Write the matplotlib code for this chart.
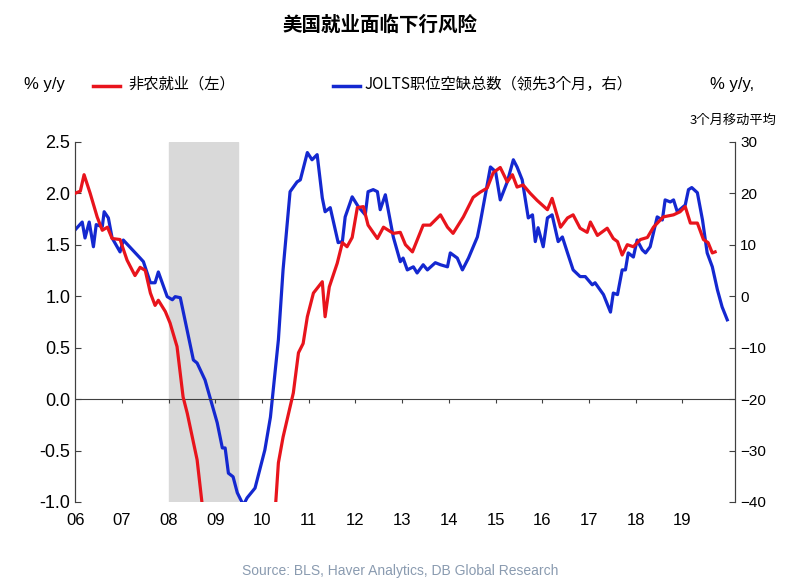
import matplotlib
matplotlib.use("Agg")
import matplotlib.pyplot as plt
from matplotlib import font_manager as fm
import numpy as np

cands = [f for f in fm.findSystemFonts() if 'CJK' in f or 'cjk' in f.lower()]
cands.sort(key=lambda f: (0 if 'Regular' in f else 1, f))
cjk_path = cands[0] if cands else None
bold_c = [f for f in cands if 'Bold' in f]
def cjk(size, bold=False):
    if cjk_path is None:
        return dict(fontsize=size, family='Noto Sans CJK SC')
    p = bold_c[0] if (bold and bold_c) else cjk_path
    return dict(fontproperties=fm.FontProperties(fname=p, size=size, weight='bold' if bold else 'normal'))

plt.rcParams['font.family'] = ['Liberation Sans']

red_t = [2006.00,2006.11,2006.19,2006.32,2006.47,2006.58,2006.69,2006.79,2006.96,2007.11,2007.28,2007.39,2007.50,2007.61,2007.71,2007.78,2007.93,2008.03,2008.18,2008.31,2008.40,2008.61,2008.72,
         2009.0,2009.5,2010.0,
         2010.35,2010.45,2010.67,2010.78,2010.88,2010.97,2011.10,2011.29,2011.35,2011.44,2011.61,2011.72,2011.82,2011.93,2012.04,2012.17,2012.27,2012.47,2012.60,2012.81,2012.96,2013.07,2013.22,2013.45,2013.60,2013.82,2013.97,2014.09,2014.31,2014.52,2014.67,2014.82,2014.95,2015.10,2015.25,2015.36,2015.46,2015.59,2015.74,2015.89,2016.11,2016.21,2016.39,2016.54,2016.66,2016.81,2016.96,2017.03,2017.18,2017.39,2017.52,2017.61,2017.71,2017.82,2017.95,2018.10,2018.25,2018.38,2018.59,2018.81,2018.95,2019.06,2019.17,2019.32,2019.45,2019.55,2019.64,2019.70]
red_v = [2.0,2.02,2.18,2.0,1.77,1.64,1.67,1.56,1.55,1.35,1.2,1.28,1.25,1.03,0.91,0.96,0.85,0.74,0.51,0.02,-0.14,-0.59,-1.03,
         -2.5,-4.5,-3.0,
         -0.62,-0.37,0.06,0.45,0.54,0.8,1.03,1.14,0.8,1.09,1.32,1.52,1.48,1.57,1.86,1.87,1.69,1.56,1.67,1.61,1.62,1.5,1.43,1.69,1.69,1.79,1.67,1.61,1.77,1.96,2.01,2.05,2.2,2.25,2.11,2.18,2.06,2.08,2.0,1.93,1.84,1.95,1.67,1.76,1.79,1.66,1.62,1.72,1.59,1.66,1.56,1.53,1.4,1.5,1.48,1.55,1.57,1.67,1.77,1.79,1.82,1.87,1.71,1.71,1.55,1.52,1.42,1.43]

blue_t = [2006.00,2006.15,2006.21,2006.30,2006.39,2006.45,2006.58,2006.62,2006.71,2006.79,2006.96,2007.03,2007.39,2007.46,2007.61,2007.71,2007.78,2007.97,2008.08,2008.14,2008.25,2008.53,2008.61,2008.78,2009.04,2009.15,2009.21,2009.28,2009.38,2009.47,2009.60,2009.68,2009.85,2010.06,2010.18,2010.35,2010.45,2010.60,2010.75,2010.82,2010.97,2011.07,2011.18,2011.29,2011.35,2011.46,2011.63,2011.72,2011.78,2011.93,2012.06,2012.21,2012.27,2012.38,2012.47,2012.53,2012.64,2012.81,2012.96,2013.02,2013.11,2013.24,2013.32,2013.45,2013.54,2013.71,2013.82,2013.97,2014.03,2014.18,2014.29,2014.42,2014.61,2014.67,2014.89,2015.00,2015.10,2015.25,2015.38,2015.46,2015.57,2015.70,2015.79,2015.85,2015.91,2016.02,2016.11,2016.21,2016.34,2016.43,2016.54,2016.66,2016.81,2016.92,2017.07,2017.13,2017.31,2017.46,2017.52,2017.61,2017.71,2017.78,2017.84,2017.95,2018.03,2018.14,2018.21,2018.31,2018.46,2018.57,2018.63,2018.74,2018.81,2018.89,2019.06,2019.13,2019.20,2019.32,2019.43,2019.53,2019.64,2019.75,2019.85,2019.96]
blue_v = [12.9,14.4,11.3,14.4,9.6,13.9,13.5,16.4,15.2,11.3,8.6,10.9,7.4,6.7,2.6,2.6,4.7,-0.1,-0.7,-0.1,-0.3,-12.4,-13.0,-16.3,-24.6,-29.5,-29.5,-34.4,-35.1,-38.2,-40.6,-39.2,-37.3,-29.9,-23.5,-8.5,5.1,20.3,22.2,22.6,27.9,26.5,27.5,19.1,16.4,17.2,10.4,10.6,15.4,19.3,17.4,15.8,20.3,20.7,20.3,16.8,19.7,11.5,6.7,7.4,5.1,5.7,4.5,6.1,5.1,6.5,6.1,5.7,8.4,7.4,5.1,7.4,11.5,14.2,25.1,24.2,18.7,22.2,26.5,25.1,22.6,15.2,15.8,10.6,13.3,9.6,15.2,15.8,10.6,11.5,8.4,5.1,3.8,3.8,2.2,2.6,0.3,-3.1,0.6,0.3,5.1,5.1,8.4,7.6,10.9,9.0,8.4,9.6,15.4,14.8,18.7,18.3,18.7,16.4,17.7,20.7,21.1,20.1,14.8,8.4,5.7,1.2,-2.1,-4.6]

years = list(range(2006, 2020))
year_labels = ['06','07','08','09','10','11','12','13','14','15','16','17','18','19']
recession = (2008.0, 2009.48)

fig = plt.figure(figsize=(8, 5.81), dpi=100)
ax = fig.add_axes([0.094, 0.136, 0.825, 0.62])
ax2 = ax.twinx()
ax.set_zorder(ax2.get_zorder() + 1)
ax.patch.set_visible(False)

ax2.axvspan(*recession, color='#d9d9d9', zorder=0)
ax2.plot(blue_t, blue_v, color='#1428d0', lw=2.3, zorder=2)
ax.plot(red_t, red_v, color='#e8141c', lw=2.3, zorder=3)
ax.axhline(0, color='#404040', lw=0.8, zorder=2)
ax.vlines(years[1:], -0.04, 0, color='#404040', lw=0.8)

ax.set_xlim(2006, 2020.13)
ax.set_ylim(-1.0, 2.5)
ax2.set_ylim(-40, 30)
ax.set_yticks(np.arange(-1.0, 2.51, 0.5))
ax.set_yticklabels([f'{v:.1f}' for v in np.arange(-1.0, 2.51, 0.5)])
ax2.set_yticks(range(-40, 31, 10))
ax.set_xticks(years)
ax.set_xticklabels(year_labels)
for a in (ax, ax2):
    a.spines['top'].set_visible(False)
    a.spines['bottom'].set_visible(False)
    a.spines['left'].set_color('#404040')
    a.spines['right'].set_color('#404040')
ax.tick_params(axis='x', length=0, labelsize=12, pad=8)
ax.tick_params(axis='y', labelsize=13, direction='in', length=4, color='#404040')
ax2.tick_params(axis='y', labelsize=11, direction='in', length=4, color='#404040')

fig.text(0.475, 0.957, '美国就业面临下行风险', ha='center', va='center', **cjk(14, bold=True))
fig.text(0.03, 0.855, '% y/y', fontsize=12, va='center')
fig.lines.append(plt.Line2D([0.116, 0.15], [0.852, 0.852], color='#e8141c', lw=2.5, transform=fig.transFigure))
fig.text(0.16, 0.855, '非农就业（左）', va='center', **cjk(11))
fig.lines.append(plt.Line2D([0.416, 0.45], [0.852, 0.852], color='#1428d0', lw=2.5, transform=fig.transFigure))
fig.text(0.456, 0.855, 'JOLTS职位空缺总数（领先3个月，右）', va='center', **cjk(11))
fig.text(0.887, 0.855, '% y/y,', fontsize=12, va='center')
fig.text(0.862, 0.793, '3个月移动平均', va='center', **cjk(9.5))
fig.text(0.5, 0.01, 'Source: BLS, Haver Analytics, DB Global Research', ha='center', fontsize=10, color='#8a9bb0')

fig.savefig('out.png', dpi=100)
